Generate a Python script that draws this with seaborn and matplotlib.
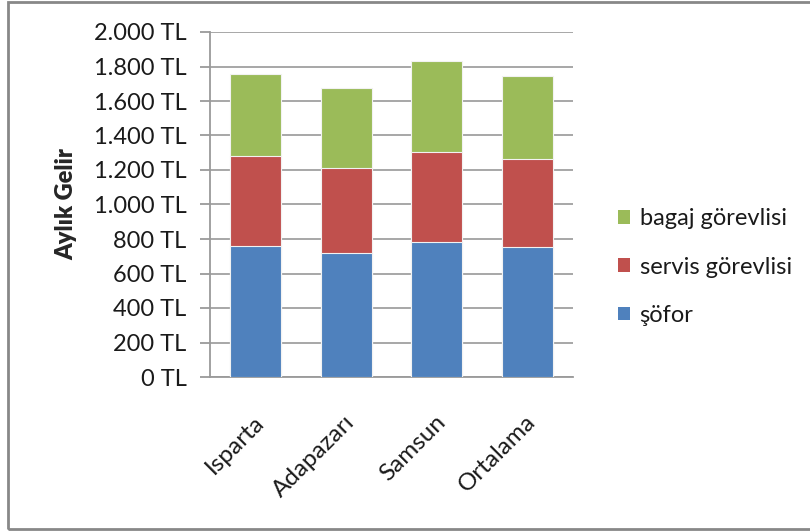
import numpy as np
import pandas as pd
import seaborn as sns
import matplotlib
matplotlib.use("Agg")
import matplotlib.pyplot as plt
from matplotlib.patches import Patch, Rectangle
from matplotlib.ticker import FuncFormatter, MultipleLocator
from matplotlib.transforms import ScaledTranslation

# Monthly income by city and role (TL)
cities = ["Isparta", "Adapazarı", "Samsun", "Ortalama"]
sofor = [760, 720, 783, 752]
servis = [521, 493, 520, 512]
bagaj = [476, 461, 527, 483]
series_names = ["şöfor", "servis görevlisi", "bagaj görevlisi"]
colors = ["#4F81BD", "#C0504D", "#9BBB59"]

df = pd.DataFrame({"city": cities, "sofor": sofor, "servis": servis, "bagaj": bagaj})
df["lvl1"] = df["sofor"]
df["lvl2"] = df["sofor"] + df["servis"]
df["lvl3"] = df["lvl2"] + df["bagaj"]

sns.set_style("white")
plt.rcParams["font.family"] = ["Lato", "DejaVu Sans"]

W, H = 810, 532
fig = plt.figure(figsize=(W / 100, H / 100), dpi=100)
ax = fig.add_axes([210 / W, 1 - 377 / H, (573 - 210) / W, (377 - 32) / H])

# stacked bars: draw cumulative totals from the top layer down
for col, c in zip(["lvl3", "lvl2", "lvl1"], colors[::-1]):
    sns.barplot(data=df, x="city", y=col, color=c, saturation=1, width=0.56,
                edgecolor="#f2f2f2", linewidth=0.8, ax=ax, zorder=3)

ax.set_ylim(0, 2000)
ax.set_xlim(-0.5, 3.5)
ax.yaxis.set_major_locator(MultipleLocator(200))
ax.yaxis.set_major_formatter(FuncFormatter(lambda v, p: f"{int(v):,}".replace(",", ".") + " TL"))
ax.grid(axis="y", color="#a0a0a0", linewidth=1.3, zorder=0)
ax.set_axisbelow(True)

for s in ["top", "right"]:
    ax.spines[s].set_visible(False)
for s in ["left", "bottom"]:
    ax.spines[s].set_color("#9a9a9a")
    ax.spines[s].set_linewidth(1.3)

ax.tick_params(axis="y", direction="out", length=7, width=1.3, color="#9a9a9a",
               labelsize=17, pad=10, labelcolor="#1a1a1a", left=True)
ax.tick_params(axis="x", length=0, labelsize=17.5, pad=30, labelcolor="#1a1a1a")

ax.set_xlabel("")
ax.set_ylabel("Aylık Gelir", fontsize=17, fontweight="heavy", labelpad=12)

for lab in ax.get_xticklabels():
    lab.set_rotation(45)
    lab.set_ha("right")
    lab.set_va("center")
    lab.set_rotation_mode("anchor")
    lab.set_transform(lab.get_transform() + ScaledTranslation(5 / 100, 0, fig.dpi_scale_trans))

handles = [Patch(facecolor=c, edgecolor="none") for c in colors]
leg = fig.legend(handles[::-1], series_names[::-1], loc="center left",
                 bbox_to_anchor=(597 / W, 1 - 267 / H), frameon=False,
                 fontsize=17, handlelength=0.5, handleheight=0.5,
                 handletextpad=0.4, labelspacing=1.15)
for t in leg.get_texts():
    t.set_color("#1a1a1a")

# chart frame
fig.patches.append(Rectangle((8 / W, 1 - 529 / H), 1.0, (529 - 2) / H,
                             transform=fig.transFigure, fill=False,
                             edgecolor="#888888", linewidth=2, zorder=0))

fig.savefig("out.png", dpi=100)
